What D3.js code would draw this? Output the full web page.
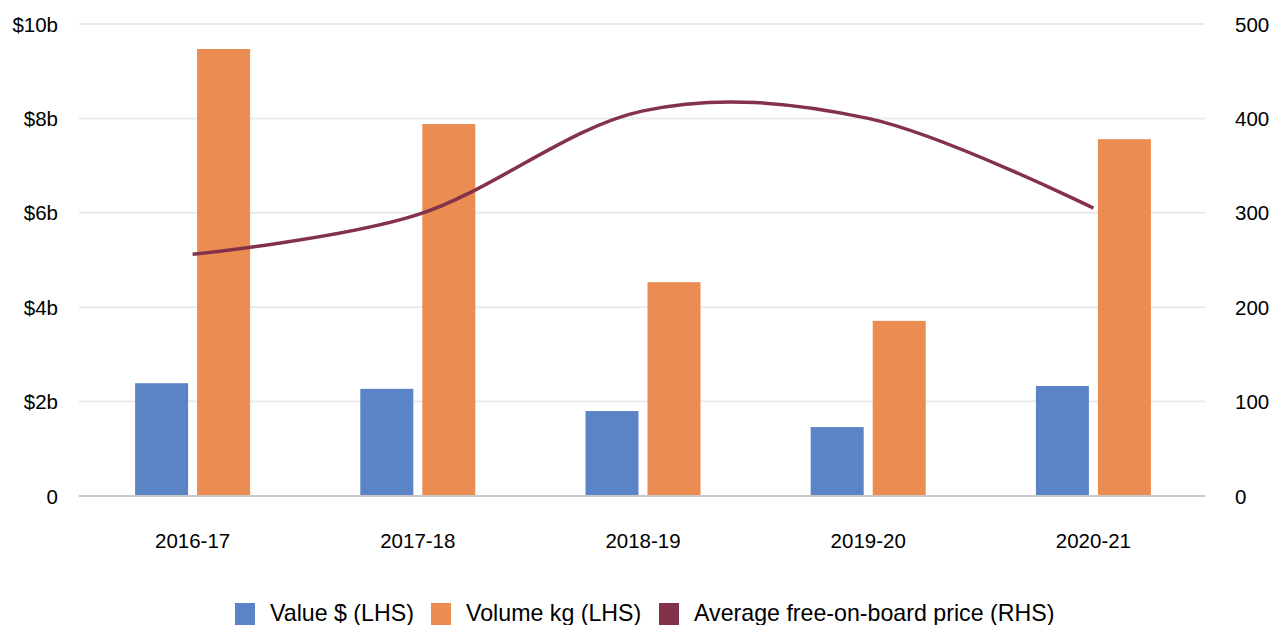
<!DOCTYPE html>
<html>
<head>
<meta charset="utf-8">
<script src="https://cdn.jsdelivr.net/npm/d3@7"></script>
<style>
  body { margin: 0; background: #fff; }
  text { font-family: Arial, "Liberation Sans", sans-serif; fill: #000; }
</style>
</head>
<body>
<svg width="1283" height="625"></svg>
<script>
const years = ["2016-17", "2017-18", "2018-19", "2019-20", "2020-21"];
const valueB = [2.39, 2.27, 1.80, 1.46, 2.33];     // $ billions (LHS)
const volumeB = [9.47, 7.88, 4.53, 3.71, 7.56];    // kg billions (LHS)
const fobPrice = [256, 298, 408, 400, 305];        // RHS
const leftTicks = [0, 2, 4, 6, 8, 10];
const rightTicks = [0, 100, 200, 300, 400, 500];
const seriesNames = ["Value $ (LHS)", "Volume kg (LHS)", "Average free-on-board price (RHS)"];
const colors = ["#5b84c7", "#eb8c52", "#84324a"];

let svg = d3.select("svg");
let m = { left: 80, right: 1206, top: 24, bottom: 496 };

let x = d3.scaleBand().domain(years).range([m.left, m.right]);
let yL = d3.scaleLinear().domain([0, 10]).range([m.bottom, m.top]);
let yR = d3.scaleLinear().domain([0, 500]).range([m.bottom, m.top]);
let barW = 53, gap = 9;

// grid
svg.append("g")
  .selectAll("line")
  .data(leftTicks.filter(d => d > 0))
  .join("line")
  .attr("x1", m.left - 1).attr("x2", m.right - 1)
  .attr("y1", d => yL(d)).attr("y2", d => yL(d))
  .attr("stroke", "#ebebeb").attr("stroke-width", 2);

// left axis
let axL = svg.append("g")
  .attr("transform", `translate(${m.left},0)`)
  .call(d3.axisLeft(yL).tickValues(leftTicks).tickSize(0).tickPadding(22)
    .tickFormat(d => d === 0 ? "0" : `$${d}b`));
axL.select(".domain").remove();
axL.selectAll("text").style("font-size", "20.5px").attr("dy", "0.35em").attr("font-family", null);

// right axis
let axR = svg.append("g")
  .attr("transform", `translate(${m.right},0)`)
  .call(d3.axisRight(yR).tickValues(rightTicks).tickSize(0).tickPadding(29));
axR.select(".domain").remove();
axR.selectAll("text").style("font-size", "20.5px").attr("dy", "0.35em").attr("font-family", null);

// bars
let group = svg.append("g");
group.selectAll("rect.val")
  .data(years)
  .join("rect")
  .attr("class", "val")
  .attr("x", d => x(d) + x.bandwidth() / 2 - gap / 2 - barW)
  .attr("width", barW)
  .attr("y", (d, i) => yL(valueB[i]))
  .attr("height", (d, i) => yL(0) - yL(valueB[i]))
  .attr("fill", colors[0]);

group.selectAll("rect.vol")
  .data(years)
  .join("rect")
  .attr("class", "vol")
  .attr("x", d => x(d) + x.bandwidth() / 2 + gap / 2)
  .attr("width", barW)
  .attr("y", (d, i) => yL(volumeB[i]))
  .attr("height", (d, i) => yL(0) - yL(volumeB[i]) - 1)
  .attr("fill", colors[1]);

// baseline
svg.append("line")
  .attr("x1", m.left - 1).attr("x2", m.right - 1)
  .attr("y1", yL(0)).attr("y2", yL(0))
  .attr("stroke", "#c8c8c8").attr("stroke-width", 2);

// x labels
let axB = svg.append("g")
  .attr("transform", `translate(0,${m.bottom})`)
  .call(d3.axisBottom(x).tickSize(0).tickPadding(37));
axB.select(".domain").remove();
axB.selectAll("text").style("font-size", "20.5px").attr("font-family", null);

// price line
let line = d3.line()
  .x((d, i) => x(years[i]) + x.bandwidth() / 2)
  .y(d => yR(d))
  .curve(d3.curveCardinal.tension(0));
svg.append("path")
  .datum(fobPrice)
  .attr("d", line)
  .attr("fill", "none")
  .attr("stroke", colors[2])
  .attr("stroke-width", 3.5);

// legend
let legendX = [235, 431, 659];
let leg = svg.append("g");
seriesNames.forEach((name, i) => {
  leg.append("rect")
    .attr("x", legendX[i]).attr("y", 603)
    .attr("width", 20).attr("height", 22)
    .attr("fill", colors[i]);
  leg.append("text")
    .attr("x", legendX[i] + 35).attr("y", 621)
    .style("font-size", "23.2px")
    .text(name);
});
</script>
</body>
</html>
